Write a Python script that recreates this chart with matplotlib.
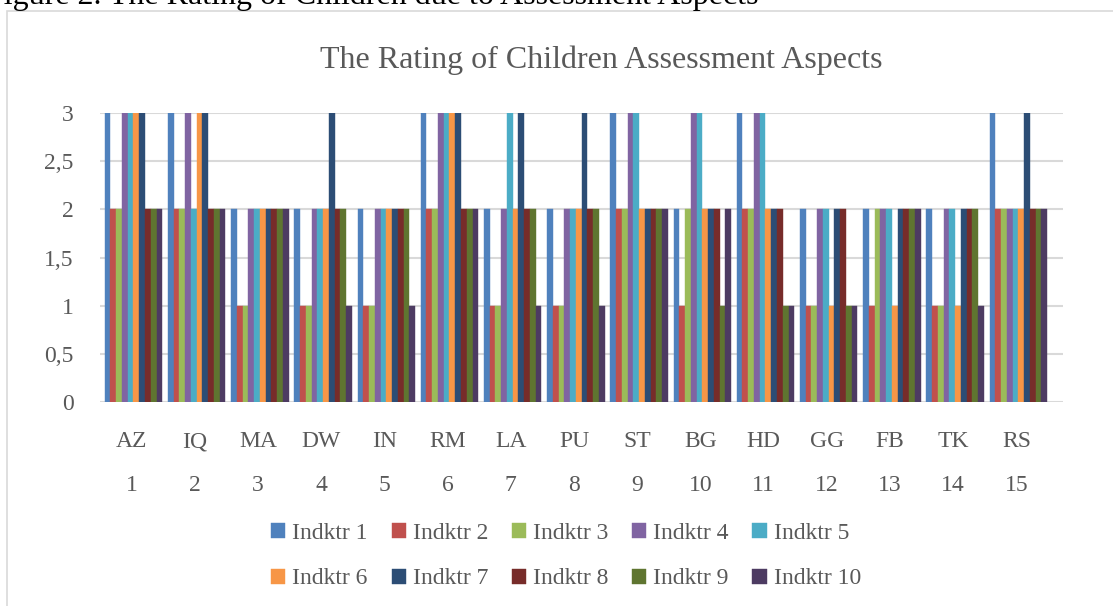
import matplotlib
matplotlib.use("Agg")
import matplotlib.pyplot as plt
import numpy as np
from matplotlib.patches import Rectangle

W, H = 1113, 606

children = ["AZ", "IQ", "MA", "DW", "IN", "RM", "LA", "PU", "ST", "BG", "HD", "GG", "FB", "TK", "RS"]
numbers = [str(i) for i in range(1, 16)]
series_names = [f"Indktr {i}" for i in range(1, 11)]

# rows = children, columns = indicators 1..10
ind1 = [3, 3, 2, 2, 2, 3, 2, 2, 3, 2, 3, 2, 2, 2, 3]
ind2 = [2, 2, 1, 1, 1, 2, 1, 1, 2, 1, 2, 1, 1, 1, 2]
ind3 = [2, 2, 1, 1, 1, 2, 1, 1, 2, 2, 2, 1, 2, 1, 2]
ind4 = [3, 3, 2, 2, 2, 3, 2, 2, 3, 3, 3, 2, 2, 2, 2]
ind5 = [3, 2, 2, 2, 2, 3, 3, 2, 3, 3, 3, 2, 2, 2, 2]
ind6 = [3, 3, 2, 2, 2, 3, 2, 2, 2, 2, 2, 1, 1, 1, 2]
ind7 = [3, 3, 2, 3, 2, 3, 3, 3, 2, 2, 2, 2, 2, 2, 3]
ind8 = [2, 2, 2, 2, 2, 2, 2, 2, 2, 2, 2, 2, 2, 2, 2]
ind9 = [2, 2, 2, 2, 2, 2, 2, 2, 2, 1, 1, 1, 2, 2, 2]
ind10 = [2, 2, 2, 1, 1, 2, 1, 1, 2, 2, 1, 1, 2, 1, 2]
series = [ind1, ind2, ind3, ind4, ind5, ind6, ind7, ind8, ind9, ind10]

colors = ["#4F81BD", "#C0504D", "#9BBB59", "#8064A2", "#4BACC6",
          "#F79646", "#2C4D75", "#772C2A", "#5F7530", "#4D3B62"]

serif = ["Liberation Serif", "DejaVu Serif"]
gray = "#595959"

fig = plt.figure(figsize=(W / 100, H / 100), dpi=100)

def fx(px):
    return px / W

def fy(py):
    return 1 - py / H

# chart border
fig.patches.append(Rectangle((fx(7), -0.1), 1.2, fy(11) + 0.1, transform=fig.transFigure,
                             fill=False, edgecolor="#D9D9D9", linewidth=1.2))

# caption (cut off at top, as in the source page)
fig.text(fx(-14), fy(4), "Figure 2. The Rating of Children due to Assessment Aspects",
         fontsize=23, family=serif, color="black", ha="left", va="baseline")

left_px, right_px = 100, 1063
bottom_px, top_px = 402, 113
ax = fig.add_axes([fx(left_px), fy(bottom_px), fx(right_px - left_px), (bottom_px - top_px) / H])

n = len(children)
pitch_px = 63.2
x = np.arange(n)
bw = 0.091
for k, (vals, c) in enumerate(zip(series, colors)):
    ax.bar(x + (k - 4.5) * bw + 0.03, vals, width=bw, color=c, edgecolor=c, linewidth=0.3,
           label=series_names[k], zorder=3)

xmax = -0.5 + (right_px - left_px) / pitch_px
ax.set_xlim(-0.5, xmax)
ax.set_ylim(0, 3)
ax.set_yticks([0, 0.5, 1, 1.5, 2, 2.5, 3])
ax.set_yticklabels(["0", "0,5", "1", "1,5", "2", "2,5", "3"], family=serif, fontsize=17, color=gray)
ax.yaxis.grid(True, color="#D9D9D9", linewidth=1.5, zorder=0)
ax.set_xticks(x)
ax.set_xticklabels([f"{a}\n\n{b}" for a, b in zip(children, numbers)], family=serif,
                   fontsize=17, color=gray, linespacing=1.05)
ax.tick_params(axis="both", length=0)
ax.tick_params(axis="y", pad=19)
ax.tick_params(axis="x", pad=21)
for s in ax.spines.values():
    s.set_visible(False)

fig.text(fx(601), fy(60), "The Rating of Children Assessment Aspects", fontsize=23,
         family=serif, color=gray, ha="center", va="center")

handles, labels = ax.get_legend_handles_labels()
order = [0, 5, 1, 6, 2, 7, 3, 8, 4, 9]
fig.legend([handles[i] for i in order], [labels[i] for i in order], loc="center",
           bbox_to_anchor=(fx(566), fy(556)), ncol=5,
           frameon=False, prop={"family": serif, "size": 17}, labelcolor=gray,
           handlelength=0.6, handleheight=0.6, handletextpad=0.3, columnspacing=1.0,
           labelspacing=1.05)

fig.savefig("out.png", dpi=100)
